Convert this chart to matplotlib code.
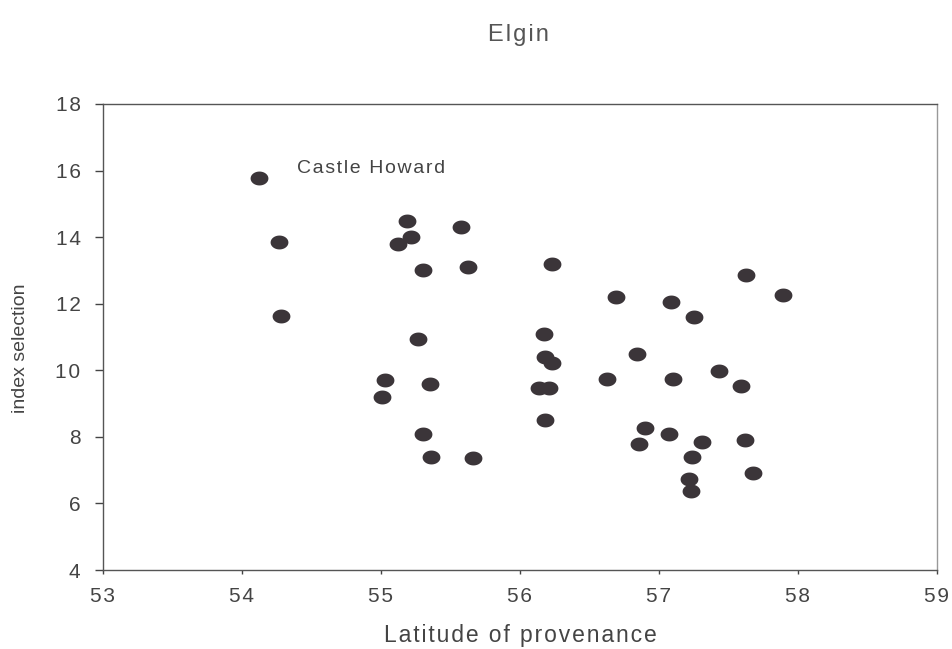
import numpy as np
import matplotlib
matplotlib.use("Agg")
import matplotlib.pyplot as plt
from matplotlib.path import Path

# latitude of provenance vs index selection
lat = [54.12, 54.27, 54.28, 55.19, 55.22, 55.12, 55.58, 55.30, 55.63, 55.27,
       55.03, 55.01, 55.35, 55.30, 55.36, 55.66,
       56.23, 57.63, 56.69, 57.09, 57.89, 57.25, 56.17, 56.18, 56.23, 56.84,
       57.43, 56.63, 57.10, 57.59, 56.14, 56.21, 56.18, 56.90, 56.86, 57.07,
       57.31, 57.62, 57.24, 57.68, 57.22, 57.23]
idx = [15.78, 13.84, 11.64, 14.48, 14.01, 13.79, 14.31, 13.00, 13.09, 10.93,
       9.70, 9.19, 9.60, 8.10, 7.40, 7.36,
       13.18, 12.87, 12.20, 12.06, 12.26, 11.61, 11.10, 10.40, 10.23, 10.49,
       9.97, 9.73, 9.73, 9.52, 9.47, 9.47, 8.52, 8.26, 7.80, 8.08,
       7.86, 7.92, 7.38, 6.90, 6.72, 6.37]

xticks = [53, 54, 55, 56, 57, 58, 59]
yticks = [4, 6, 8, 10, 12, 14, 16, 18]

plt.rcParams['font.family'] = ['Liberation Sans', 'DejaVu Sans']


def spaced(s):
    # the scanned labels are a bit letter-spaced
    return "\u200a".join(s)


# slightly flattened dot, like the scanned original
t = np.linspace(0, 2 * np.pi, 40)
ellipse = Path(np.column_stack([np.cos(t), 0.78 * np.sin(t)]), closed=True)

ink = "#444444"
fig = plt.figure(figsize=(9.52, 6.49), dpi=100)
ax = fig.add_axes([0.108, 0.1217, 0.8762, 0.7181])
ax.scatter(lat, idx, marker=ellipse, s=165, color="#3b3539", linewidths=0, zorder=3)

ax.set_xlim(53, 59)
ax.set_ylim(4, 18)
ax.set_xticks(xticks)
ax.set_xticklabels([spaced(str(v)) for v in xticks])
ax.set_yticks(yticks)
ax.set_yticklabels([spaced(str(v)) for v in yticks])
ax.tick_params(direction="out", colors=ink, labelsize=15)
ax.tick_params(axis="y", length=6, width=1, pad=10)
ax.tick_params(axis="x", length=3, width=1, pad=9)
for s in ax.spines.values():
    s.set_color("#555555")
    s.set_linewidth(1)
ax.spines["right"].set_color("#999999")

ax.text(54.4, 15.92, spaced("Castle Howard"), fontsize=14, color=ink, va="baseline")
fig.text(0.545, 0.946, spaced("Elgin"), fontsize=17, color="#555555", ha="center", va="center")
fig.text(0.547, 0.021, spaced("Latitude of provenance"), fontsize=16.5, color=ink,
         ha="center", va="center")
ax.set_ylabel("index selection", fontsize=14, color=ink)
ax.yaxis.set_label_coords(-0.089, 0.476)

fig.savefig("out.png", dpi=100)
